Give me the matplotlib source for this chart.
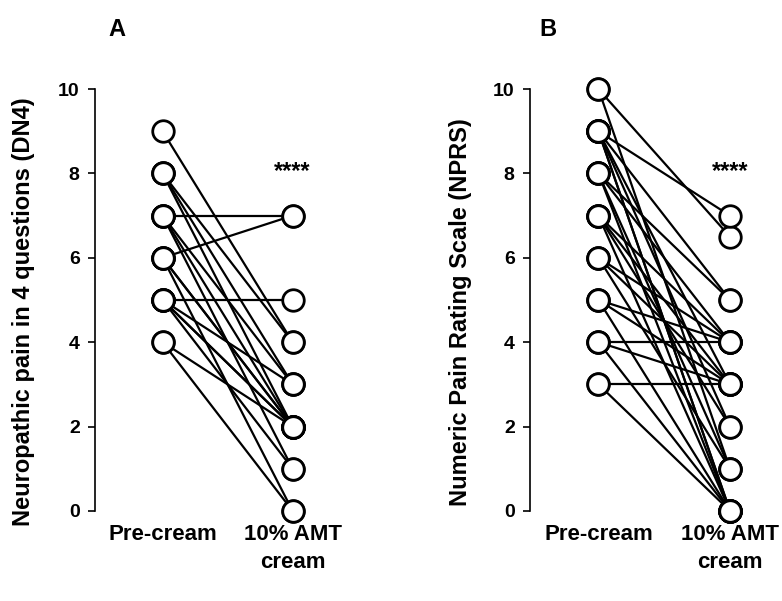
import matplotlib
matplotlib.use("Agg")
import matplotlib.pyplot as plt

plt.rcParams['font.family'] = ['Liberation Sans', 'DejaVu Sans']
plt.rcParams['font.weight'] = 'bold'

conditions = ["Pre-cream", "10% AMT\ncream"]
yticks = [0, 2, 4, 6, 8, 10]

# Panel A: DN4 (pre, post) pairs
dn4_pre = [9, 8, 8, 8, 7, 7, 7, 7, 6, 6, 6, 6, 5, 5, 5, 5, 5, 4, 4]
dn4_post = [4, 3, 2, 4, 7, 3, 2, 1, 7, 2, 2, 0, 5, 3, 2, 2, 1, 2, 0]

# Panel B: NPRS (pre, post) pairs
nprs_pre = [10, 10, 9, 9, 9, 9, 9, 9, 8, 8, 8, 8, 7, 7, 7, 7, 6, 6, 6, 5, 5, 5, 4, 4, 4, 3, 3]
nprs_post = [6.5, 1, 7, 5, 3, 2, 0, 0, 5, 4, 1, 0, 4, 3, 2, 0, 4, 3, 1, 4, 3, 0, 4, 3, 0, 3, 0]

W, H = 782, 601
fig = plt.figure(figsize=(W / 100, H / 100), dpi=100)

def make_panel(left_px, right_px, pre, post, ylabel, letter, letter_x, ylab_x):
    ax = fig.add_axes([left_px / W, (H - 532) / H, (right_px - left_px) / W, (532 - 68) / H])
    for a, b in zip(pre, post):
        ax.plot([0, 1], [a, b], color='black', lw=1.6, zorder=2)
    ax.plot([0] * len(pre), pre, 'o', ms=15.5, mfc='white', mec='black', mew=2.0, zorder=3, clip_on=False)
    ax.plot([1] * len(post), post, 'o', ms=15.5, mfc='white', mec='black', mew=2.0, zorder=3, clip_on=False)
    ax.set_xlim(-0.52, 1.38)
    ax.set_ylim(-0.5, 10.5)
    ax.spines['top'].set_visible(False)
    ax.spines['right'].set_visible(False)
    ax.spines['bottom'].set_visible(False)
    ax.spines['left'].set_bounds(0, 10)
    ax.spines['left'].set_linewidth(1.2)
    ax.set_yticks(yticks)
    ax.set_yticklabels([str(t) for t in yticks], fontsize=14, fontweight='bold')
    ax.tick_params(axis='y', direction='out', length=5, width=1.2, pad=6)
    ax.set_xticks([])
    for xi, lab in zip([0, 1], conditions):
        ax.text(xi, -0.3, lab, ha='center', va='top', fontsize=16, fontweight='bold',
                linespacing=1.45, clip_on=False)
    ax.text(1.0, 8.05, "****", ha='center', va='center', fontsize=17, fontweight='bold')
    fig.text(ylab_x / W, (H - 312) / H, ylabel, rotation=90, ha='center', va='center',
             fontsize=17, fontweight='bold')
    fig.text(letter_x / W, (H - 30) / H, letter, ha='center', va='center',
             fontsize=17, fontweight='bold')
    return ax

make_panel(95, 342, dn4_pre, dn4_post, "Neuropathic pain in 4 questions (DN4)", "A", 117, 24)
make_panel(530, 780, nprs_pre, nprs_post, "Numeric Pain Rating Scale (NPRS)", "B", 548, 460)

fig.savefig("out.png", dpi=100, facecolor='white')
